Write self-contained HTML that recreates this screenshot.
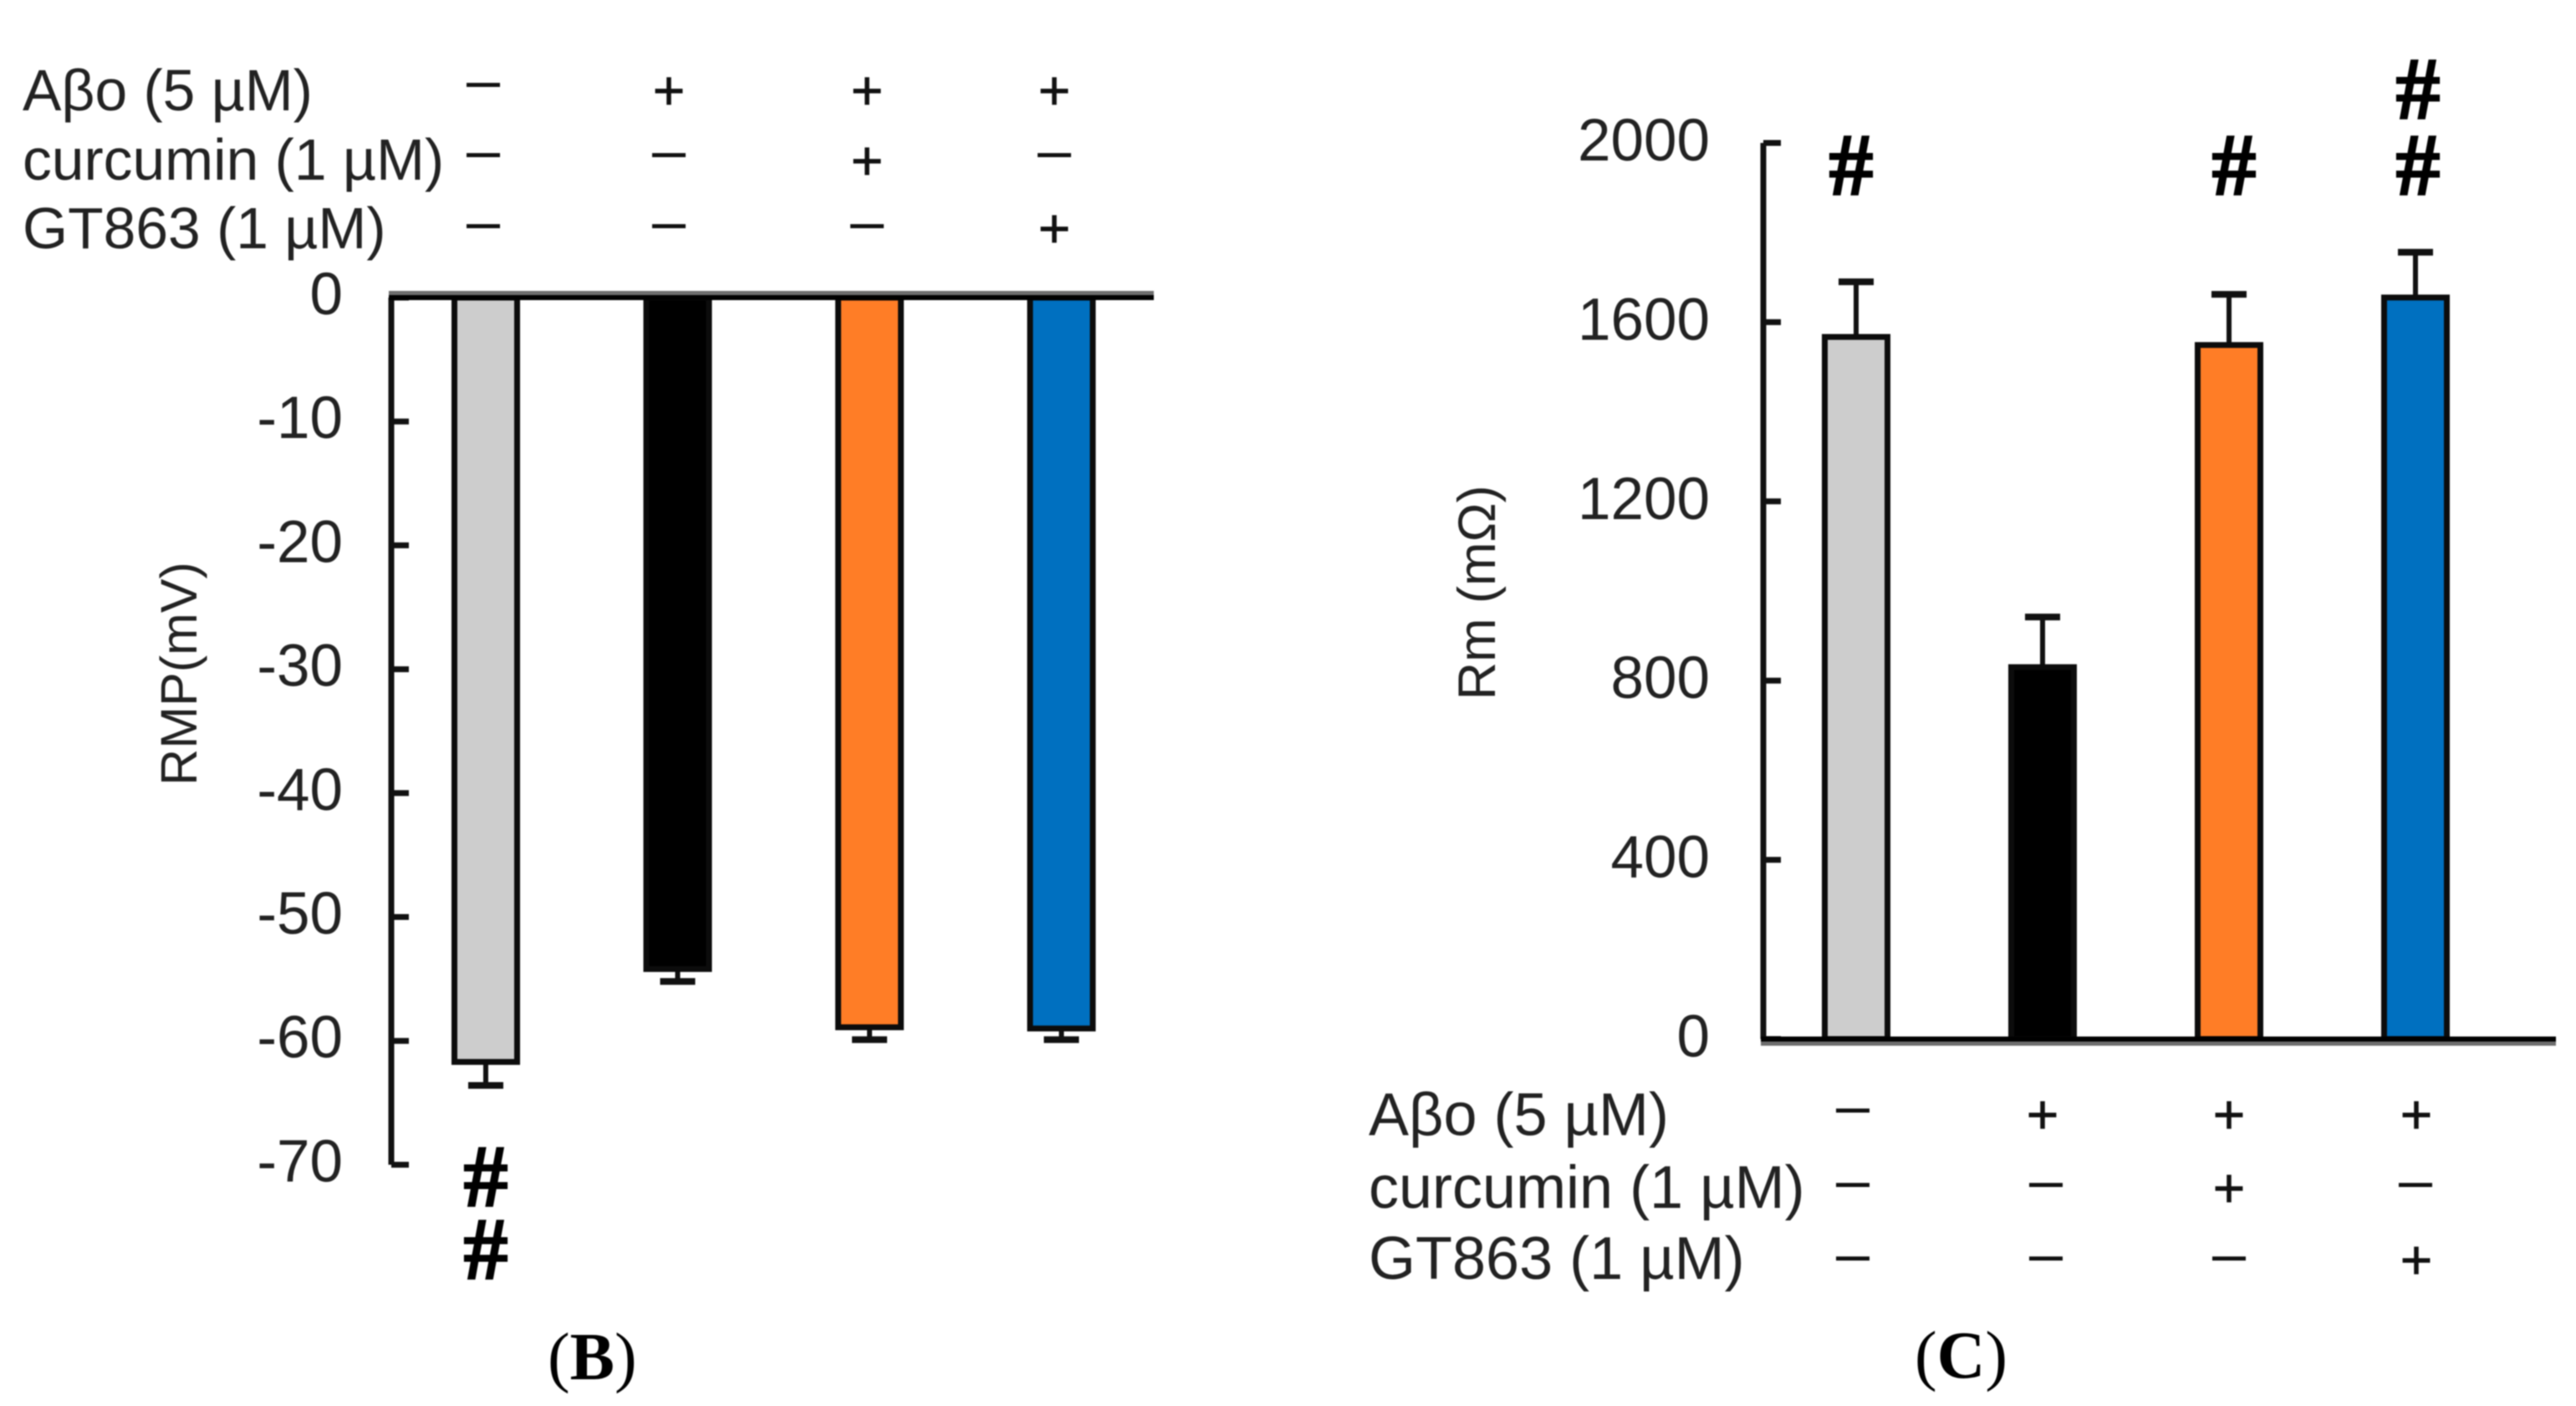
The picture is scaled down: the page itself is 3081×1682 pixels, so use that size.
<!DOCTYPE html>
<html lang="en">
<head>
<meta charset="utf-8">
<title>RMP and Rm bar charts</title>
<style>
html,body{margin:0;padding:0;background:#fff;width:3081px;height:1682px;overflow:hidden}
svg{display:block;filter:blur(0.7px)}
text{font-family:"Liberation Sans","DejaVu Sans",sans-serif;fill:#222}
.lab{font-size:69.6px}
.labc{font-size:72px}
.tick{font-size:71px;text-anchor:end}
.title{font-size:61px;text-anchor:middle}
.titlec{font-size:63px;text-anchor:middle}
.sym{text-anchor:middle;fill:#111}
.minus{font-size:72px}
.plus{font-size:66px;stroke:#111;stroke-width:0.8px}
.hash{font-family:"Liberation Serif",serif;font-weight:bold;font-size:106px;text-anchor:middle;fill:#000;stroke:#000;stroke-width:2px}
.panel{font-family:"Liberation Serif",serif;font-size:80px;fill:#000}
</style>
</head>
<body>
<svg id="fig" xmlns="http://www.w3.org/2000/svg" width="3081" height="1682" viewBox="0 0 3081 1682">
  <rect x="0" y="0" width="3081" height="1682" fill="#fff"/>

  <g id="chartB"></g>
  <g id="chartC"></g>

  <g>
    <text class="lab" x="27" y="132">Aβo (5 µM)</text>
    <text class="lab" x="27" y="215">curcumin (1 µM)</text>
    <text class="lab" x="27" y="297">GT863 (1 µM)</text>
    <text class="sym minus" x="578" y="120">–</text>
    <text class="sym plus" x="800" y="131">+</text>
    <text class="sym plus" x="1037" y="131">+</text>
    <text class="sym plus" x="1261" y="131">+</text>
    <text class="sym minus" x="578" y="204">–</text>
    <text class="sym minus" x="800" y="204">–</text>
    <text class="sym plus" x="1037" y="215">+</text>
    <text class="sym minus" x="1261" y="204">–</text>
    <text class="sym minus" x="578" y="289">–</text>
    <text class="sym minus" x="800" y="289">–</text>
    <text class="sym minus" x="1037" y="289">–</text>
    <text class="sym plus" x="1261" y="296">+</text>
  </g>

  <g>
    <text class="labc" x="1637" y="1358">Aβo (5 µM)</text>
    <text class="labc" x="1637" y="1445">curcumin (1 µM)</text>
    <text class="labc" x="1637" y="1530">GT863 (1 µM)</text>
    <text class="sym minus" x="2216" y="1347">–</text>
    <text class="sym plus" x="2443" y="1356">+</text>
    <text class="sym plus" x="2666" y="1356">+</text>
    <text class="sym plus" x="2890" y="1356">+</text>
    <text class="sym minus" x="2216" y="1436">–</text>
    <text class="sym minus" x="2447" y="1436">–</text>
    <text class="sym plus" x="2666" y="1444">+</text>
    <text class="sym minus" x="2889" y="1436">–</text>
    <text class="sym minus" x="2216" y="1524">–</text>
    <text class="sym minus" x="2447" y="1524">–</text>
    <text class="sym minus" x="2666" y="1524">–</text>
    <text class="sym plus" x="2890" y="1530">+</text>
  </g>

  <text class="title" transform="translate(235,806) rotate(-90)">RMP(mV)</text>
  <text class="titlec" transform="translate(1788,709) rotate(-90)">Rm (mΩ)</text>

  <text class="hash" x="581" y="1443">#</text>
  <text class="hash" x="581" y="1530">#</text>
  <text class="hash" x="2214" y="233">#</text>
  <text class="hash" x="2672" y="233">#</text>
  <text class="hash" x="2892" y="233">#</text>
  <text class="hash" x="2892" y="142">#</text>

  <text class="panel" x="655" y="1650">(<tspan font-weight="bold">B</tspan>)</text>
  <text class="panel" x="2290" y="1648">(<tspan font-weight="bold">C</tspan>)</text>
</svg>

<script>
const categories = ['control', 'abeta', 'abeta-curcumin', 'abeta-gt863'];
const rmpValues = [-61.7, -54.2, -58.9, -59.0];
const rmpErrors = [1.9, 1.0, 1.0, 0.9];
const rmpTicks = [0, -10, -20, -30, -40, -50, -60, -70];
const rmValues = [1567, 830, 1549, 1655];
const rmErrors = [123, 112, 113, 101];
const rmTicks = [0, 400, 800, 1200, 1600, 2000];
const barFills = ['#cdcdcd', '#000000', '#ff7d26', '#0070c0'];

const NS = 'http://www.w3.org/2000/svg';
function mk(tag, attrs, parent) {
  const el = document.createElementNS(NS, tag);
  for (const k in attrs) el.setAttribute(k, attrs[k]);
  parent.appendChild(el);
  return el;
}

function drawChart(group, prefix, cfg) {
  const y = cfg.y;
  const x = function (i) { return cfg.x0 + cfg.step * i; };

  categories.forEach(function (cat, i) {
    const top = Math.min(y(0), y(cfg.values[i]));
    const h = Math.abs(y(cfg.values[i]) - y(0));
    const errEnd = y(cfg.values[i] + cfg.sign * cfg.errors[i]);

    const stem = mk('line', { x1: x(i), x2: x(i), y1: y(cfg.values[i]), y2: errEnd, stroke: '#111', 'stroke-width': 6 }, group);
    
    

    const cap = mk('line', { x1: x(i) - 21, x2: x(i) + 21, y1: errEnd, y2: errEnd, stroke: '#111', 'stroke-width': 8 }, group);
    
    

    const bar = mk('rect', { x: x(i) - 37.5, y: top, width: 75, height: h, fill: barFills[i], stroke: '#0c0c0c', 'stroke-width': 7 }, group);
    
    
  });

  const axisY = mk('line', { x1: cfg.axisX, x2: cfg.axisX, y1: y(cfg.ticks[0]), y2: y(cfg.ticks[cfg.ticks.length - 1]), stroke: '#111', 'stroke-width': 7 }, group);
  
  

  cfg.ticks.forEach(function (t) {
    const mark = mk('line', { x1: cfg.axisX, x2: cfg.axisX + 21, y1: y(t), y2: y(t), stroke: '#111', 'stroke-width': 7 }, group);
    
    

    const label = mk('text', { x: cfg.labelX, y: y(t) + cfg.labelDy, class: 'tick' }, group);
    label.textContent = String(t);
    
    
  });

  const shade = mk('rect', { x: cfg.lineX0, y: y(0) + cfg.shadeDy, width: cfg.lineX1 - cfg.lineX0, height: 5, fill: '#6e6e6e' }, group);
  
  

  const axisX = mk('line', { x1: cfg.lineX0, x2: cfg.lineX1, y1: y(0), y2: y(0), stroke: '#000', 'stroke-width': 6 }, group);
  
  
}

drawChart(document.getElementById('chartB'), 'rmp', {
  values: rmpValues, errors: rmpErrors, ticks: rmpTicks, sign: -1,
  y: function (v) { return 356 + (-v) * 14.82; },
  x0: 581, step: 229.5, axisX: 468, labelX: 410, labelDy: 20,
  lineX0: 465, lineX1: 1380, shadeDy: -8
});

drawChart(document.getElementById('chartC'), 'rm', {
  values: rmValues, errors: rmErrors, ticks: rmTicks, sign: 1,
  y: function (v) { return 1243 - v * 0.536; },
  x0: 2220, step: 223, axisX: 2109, labelX: 2045, labelDy: 21,
  lineX0: 2106, lineX1: 3057, shadeDy: 3
});
</script>
</body>
</html>
